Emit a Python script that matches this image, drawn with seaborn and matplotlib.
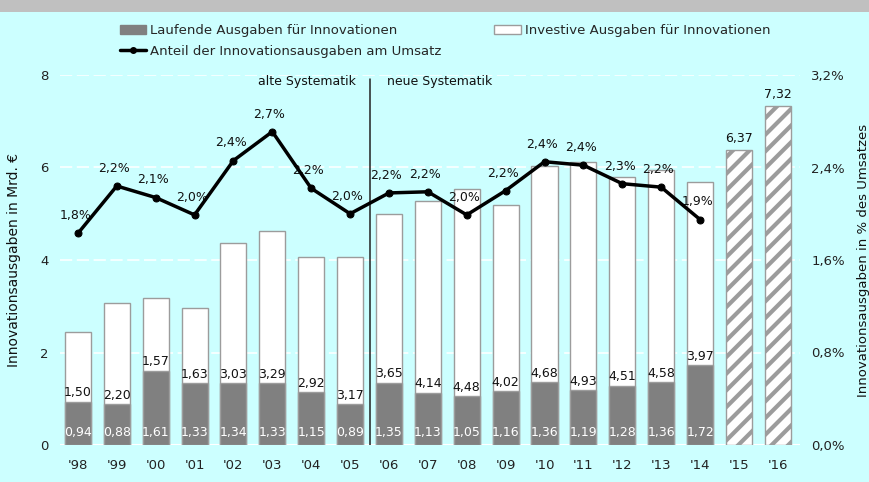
import numpy as np
import pandas as pd
import matplotlib
matplotlib.use("Agg")
import matplotlib.pyplot as plt
import seaborn as sns
from matplotlib.patches import Patch, Rectangle
from matplotlib.lines import Line2D

# ---- data ----
years = ["'98", "'99", "'00", "'01", "'02", "'03", "'04", "'05", "'06", "'07",
         "'08", "'09", "'10", "'11", "'12", "'13", "'14", "'15", "'16"]
actual_years = years[:17]
laufende = [0.94, 0.88, 1.61, 1.33, 1.34, 1.33, 1.15, 0.89, 1.35, 1.13,
            1.05, 1.16, 1.36, 1.19, 1.28, 1.36, 1.72]
investive = [1.50, 2.20, 1.57, 1.63, 3.03, 3.29, 2.92, 3.17, 3.65, 4.14,
             4.48, 4.02, 4.68, 4.93, 4.51, 4.58, 3.97]
forecast_years = ["'15", "'16"]
forecast_total = [6.37, 7.32]
anteil = [1.83, 2.24, 2.14, 1.99, 2.46, 2.71, 2.22, 2.00, 2.18, 2.19,
          1.99, 2.20, 2.45, 2.42, 2.26, 2.23, 1.95]
anteil_labels = ["1,8%", "2,2%", "2,1%", "2,0%", "2,4%", "2,7%", "2,2%", "2,0%",
                 "2,2%", "2,2%", "2,0%", "2,2%", "2,4%", "2,4%", "2,3%", "2,2%", "1,9%"]
left_ticks = [0, 2, 4, 6, 8]
right_ticks = [0.0, 0.8, 1.6, 2.4, 3.2]

BG = "#CCFFFF"
GRAY = "#808080"
EDGE = "#9C9C9C"

def de(v, nd=2):
    return f"{v:.{nd}f}".replace(".", ",")

sns.set_style("white")
plt.rcParams["font.family"] = ["DejaVu Sans"]
plt.rcParams["hatch.color"] = GRAY
plt.rcParams["hatch.linewidth"] = 3.0

fig = plt.figure(figsize=(8.69, 4.82), dpi=100, facecolor=BG)
fig.patches.append(Rectangle((0, 1 - 12 / 482), 1, 12 / 482, transform=fig.transFigure,
                             facecolor="#C0C0C0", edgecolor="none", zorder=0))
ax = fig.add_axes([60 / 869, 37 / 482, 740 / 869, 370 / 482])
ax.set_facecolor(BG)

df = pd.DataFrame({"Jahr": actual_years, "Laufende": laufende, "Investive": investive})
df["Gesamt"] = df["Laufende"] + df["Investive"]
fc = pd.DataFrame({"Jahr": forecast_years, "Gesamt": forecast_total})

W = 0.67
sns.barplot(data=df, x="Jahr", y="Gesamt", order=years, color="white", saturation=1,
            edgecolor=EDGE, linewidth=1.0, width=W, errorbar=None, ax=ax, zorder=3)
sns.barplot(data=df, x="Jahr", y="Laufende", order=years, color=GRAY, saturation=1,
            edgecolor=EDGE, linewidth=1.0, width=W, errorbar=None, ax=ax, zorder=3)
sns.barplot(data=fc, x="Jahr", y="Gesamt", order=years, color="white", saturation=1,
            edgecolor=EDGE, linewidth=1.0, width=W, hatch="//", errorbar=None, ax=ax, zorder=3)

ax.set_ylim(0, 8)
ax.set_yticks(left_ticks)
ax.set_yticklabels([str(t) for t in left_ticks], fontsize=9.5, color="#222222")
ax.grid(axis="y", color="white", linestyle=(0, (8, 3)), linewidth=1.1, zorder=0)
ax.grid(axis="x", visible=False)
ax.axhline(0, color="white", lw=1.5, zorder=2)
for s in ax.spines.values():
    s.set_visible(False)
ax.tick_params(axis="both", length=0, pad=8)
ax.tick_params(axis="x", labelsize=9.5, colors="#222222", pad=10)
ax.set_xlabel("")
ax.set_ylabel("Innovationsausgaben in Mrd. €", fontsize=10, labelpad=14, color="#111111")

# bar value labels
for i, (l, v) in enumerate(zip(laufende, investive)):
    ax.text(i, 0.12, de(l), ha="center", va="bottom", color="white", fontsize=9, zorder=5)
    ax.text(i, l + 0.05, de(v), ha="center", va="bottom", color="#111111", fontsize=9, zorder=5)
for yr, t in zip(forecast_years, forecast_total):
    i = years.index(yr)
    ax.text(i, t + 0.12, de(t), ha="center", va="bottom", color="#111111", fontsize=9, zorder=5)

# system break
ax.axvline(7.5, ymin=0, ymax=0.99, color="#222222", lw=1.1, zorder=4)
ax.text(7.15, 7.85, "alte Systematik", ha="right", va="center", fontsize=9, color="#111111")
ax.text(7.95, 7.85, "neue Systematik", ha="left", va="center", fontsize=9, color="#111111")

# share line
ax2 = ax.twinx()
xpos = np.arange(len(anteil))
sns.lineplot(x=xpos, y=anteil, ax=ax2, color="black", linewidth=2.5, marker="o",
             markersize=5, markeredgecolor="black", sort=False, zorder=6)
for x, y, lab in zip(xpos, anteil, anteil_labels):
    ax2.annotate(lab, (x, y), xytext=(-2, 8), textcoords="offset points",
                 ha="center", va="bottom", fontsize=9, color="#111111")
ax2.set_ylim(0, 3.2)
ax2.set_yticks(right_ticks)
ax2.set_yticklabels([de(t, 1) + "%" for t in right_ticks], fontsize=9.5, color="#222222")
ax2.grid(False)
for s in ax2.spines.values():
    s.set_visible(False)
ax2.tick_params(axis="y", length=0, pad=8)
ax2.set_ylabel("Innovationsausgaben in % des Umsatzes", fontsize=9.5, rotation=90,
               labelpad=9, color="#111111")
ax.set_xlim(-0.46, 18.57)

# legend
handles = [Patch(facecolor=GRAY, edgecolor=GRAY),
           Line2D([0], [0], color="black", lw=2.5, marker="o", markersize=4),
           Patch(facecolor="white", edgecolor=EDGE)]
labels = ["Laufende Ausgaben für Innovationen",
          "Anteil der Innovationsausgaben am Umsatz",
          "Investive Ausgaben für Innovationen"]
fig.legend(handles, labels, ncol=2, loc="upper left", bbox_to_anchor=(108 / 869, 1 - 12 / 482),
           frameon=False, fontsize=9.5, handlelength=2.0, handletextpad=0.3,
           labelspacing=0.6, columnspacing=4.0)

fig.savefig("out.png", dpi=100, facecolor=BG)
